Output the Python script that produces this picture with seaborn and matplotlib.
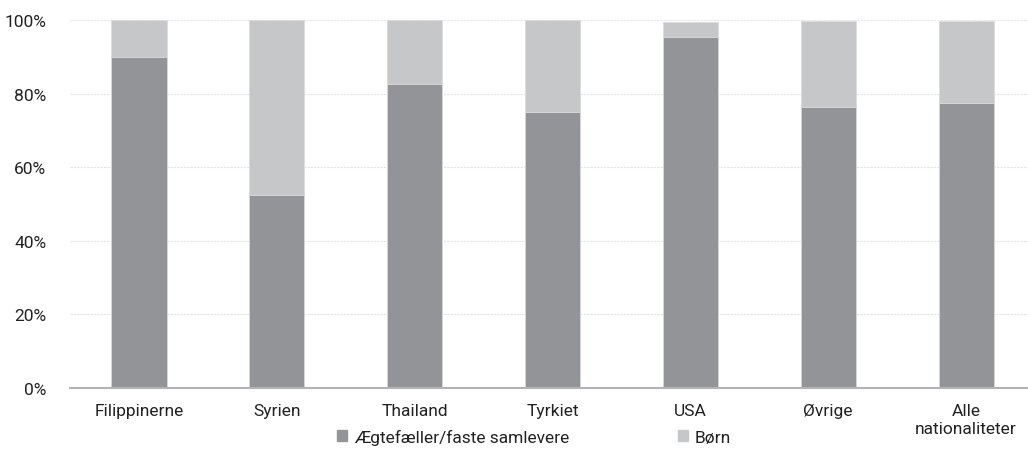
import numpy as np
import pandas as pd
import seaborn as sns
from matplotlib import pyplot as plt
from matplotlib.patches import Patch
from matplotlib.ticker import PercentFormatter

sns.set_style('white')
plt.rcParams['font.family'] = ['Roboto', 'DejaVu Sans']

countries = ['Filippinerne', 'Syrien', 'Thailand', 'Tyrkiet', 'USA', 'Øvrige',
             'Alle\nnationaliteter']
spouses = [89.9, 52.4, 82.5, 75.0, 95.5, 76.4, 77.4]
children = [10.1, 47.6, 17.5, 25.0, 4.0, 23.3, 22.2]

dark = '#939498'
light = '#c6c7c9'

df = pd.DataFrame({'land': countries, 'spouse': spouses, 'child': children})
df['total'] = df['spouse'] + df['child']

fig = plt.figure(figsize=(10.28, 4.77), dpi=100)
ax = fig.add_axes([70 / 1028, 1 - 389 / 477, 965 / 1028, 368 / 477])

sns.barplot(data=df, x='land', y='total', color=light, width=0.4, saturation=1,
            edgecolor='#dcdcdc', linewidth=0.6, ax=ax, zorder=3)
sns.barplot(data=df, x='land', y='spouse', color=dark, width=0.4, saturation=1,
            edgecolor='#dcdcdc', linewidth=0.6, ax=ax, zorder=4)

ax.set_ylim(0, 100)
ax.set_xlim(-0.5, 6.5)
ax.set_yticks(np.arange(0, 101, 20))
ax.yaxis.set_major_formatter(PercentFormatter(decimals=0))
ax.grid(axis='y', color='#e4e4e4', linestyle=(0, (2, 1)), linewidth=0.8, zorder=0)
for s in ['top', 'right', 'left']:
    ax.spines[s].set_visible(False)
ax.spines['bottom'].set_color('#b3b3b6')
ax.spines['bottom'].set_linewidth(1.5)
ax.spines['bottom'].set_zorder(5)
ax.tick_params(axis='both', length=0, labelsize=12.5, colors='#222222')
ax.tick_params(axis='y', pad=17)
ax.tick_params(axis='x', pad=11)
ax.set_xlabel('')
ax.set_ylabel('')

handles = [Patch(color=dark, label='Ægtefæller/faste samlevere'),
           Patch(color=light, label='Børn')]
fig.legend(handles=handles, loc='center', bbox_to_anchor=(534 / 1028, 1 - 438 / 477),
           ncol=2, frameon=False, fontsize=12.5, handlelength=0.6, handleheight=0.6,
           handletextpad=0.4, columnspacing=6.25, labelcolor='#222222')

fig.savefig('out.png', dpi=100)
